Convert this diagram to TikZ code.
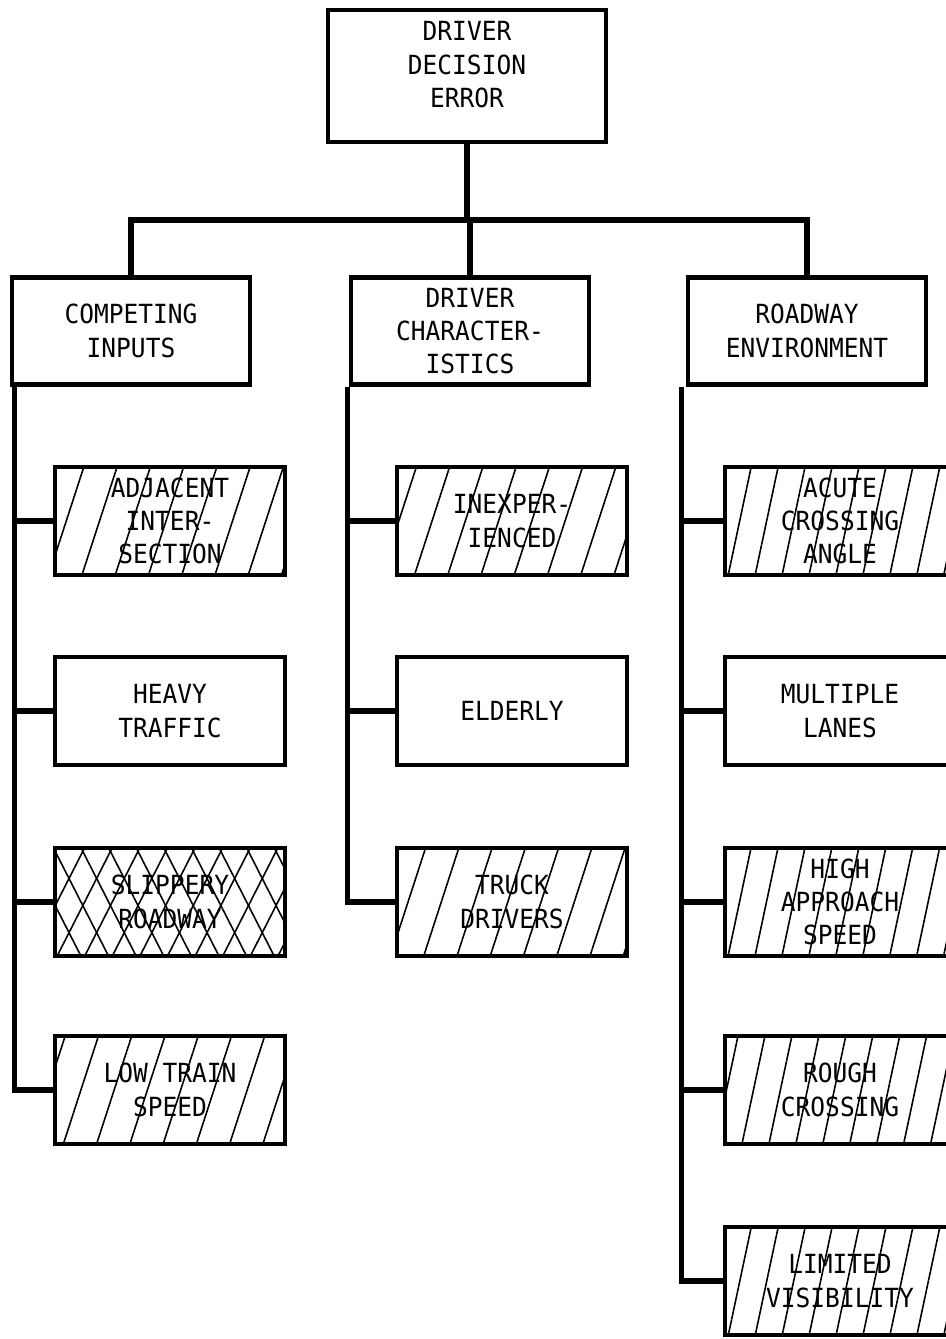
\documentclass[tikz,border=0pt]{standalone}
\usepackage{fontspec}
\setmonofont[FakeStretch=0.93]{DejaVu Sans Mono}
\usetikzlibrary{patterns.meta}
\tikzset{
  errnode/.style={
    rectangle, draw, line width=2.8pt,
    minimum width=5.56cm, minimum height=2.64cm,
    align=center, font=\ttfamily\fontsize{15}{19}\selectfont
  },
  catnode/.style={
    rectangle, draw, line width=2.8pt,
    minimum width=4.76cm, minimum height=2.14cm,
    align=center, font=\ttfamily\fontsize{15}{19}\selectfont
  },
  itemnode/.style={
    rectangle, draw, line width=2.6pt,
    minimum width=4.6cm, minimum height=2.16cm,
    align=center, font=\ttfamily\fontsize{15}{19}\selectfont
  },
  slanted/.style={pattern={Lines[angle=72, distance=18pt, line width=0.9pt]}},
  steeper/.style={pattern={Lines[angle=78, distance=15pt, line width=0.9pt]}},
  crossed/.style={pattern={Lines[angle=63, distance=14pt, line width=0.9pt]},
    postaction={pattern={Lines[angle=117, distance=14pt, line width=0.9pt]}}},
  linkline/.style={line width=3.2pt},
}

\begin{document}
\begin{tikzpicture}[x=0.02cm, y=-0.02cm]
  \useasboundingbox (0,0) rectangle (946,1339);
  \clip (0,0) rectangle (946,1339);

  % top and categories
  \node[errnode](err) at (467,76) {DRIVER\\DECISION\\ERROR\\[-6pt]};
  \node[catnode](compin) at (131,331) {COMPETING\\INPUTS};
  \node[catnode](drvch) at (470,331) {DRIVER\\CHARACTER-\\ISTICS};
  \node[catnode](roadenv) at (807,331) {ROADWAY\\ENVIRONMENT};

  \coordinate (bar) at (0,220);
  \draw[linkline](err.south)--(err.south |- bar);
  \draw[linkline](compin.north) |- (roadenv.north |- bar)--(roadenv.north);
  \draw[linkline](drvch.north)--(drvch.north |- bar);

  % competing inputs
  \node[itemnode, slanted](adjint) at (170,521) {ADJACENT\\INTER-\\SECTION};
  \node[itemnode](heavy) at (170,711) {HEAVY\\TRAFFIC};
  \node[itemnode, crossed](slip) at (170,902) {SLIPPERY\\ROADWAY};
  \node[itemnode, slanted](lowspd) at (170,1090) {LOW TRAIN\\SPEED};

  % driver characteristics
  \node[itemnode, slanted](inexp) at (512,521) {INEXPER-\\IENCED};
  \node[itemnode](elderly) at (512,711) {ELDERLY};
  \node[itemnode, slanted](truck) at (512,902) {TRUCK\\DRIVERS};

  % roadway environment
  \node[itemnode, steeper](acute) at (840,521) {ACUTE\\CROSSING\\ANGLE};
  \node[itemnode](lanes) at (840,711) {MULTIPLE\\LANES};
  \node[itemnode, steeper](highspd) at (840,902) {HIGH\\APPROACH\\SPEED};
  \node[itemnode, steeper](rough) at (840,1090) {ROUGH\\CROSSING};
  \node[itemnode, steeper](limvis) at (840,1281) {LIMITED\\VISIBILITY};

  % spines
  \coordinate (cspine) at ([xshift=0.1cm]compin.south west);
  \coordinate (dspine) at ([xshift=-0.02cm]drvch.south west);
  \coordinate (rspine) at ([xshift=-0.08cm]roadenv.south west);

  \draw[linkline](cspine) |- (lowspd.west);
  \draw[linkline](adjint.west)--(adjint.west -| cspine);
  \draw[linkline](heavy.west)--(heavy.west -| cspine);
  \draw[linkline](slip.west)--(slip.west -| cspine);

  \draw[linkline](dspine) |- (truck.west);
  \draw[linkline](inexp.west)--(inexp.west -| dspine);
  \draw[linkline](elderly.west)--(elderly.west -| dspine);

  \draw[linkline](rspine) |- (limvis.west);
  \draw[linkline](acute.west)--(acute.west -| rspine);
  \draw[linkline](lanes.west)--(lanes.west -| rspine);
  \draw[linkline](highspd.west)--(highspd.west -| rspine);
  \draw[linkline](rough.west)--(rough.west -| rspine);
\end{tikzpicture}
\end{document}
